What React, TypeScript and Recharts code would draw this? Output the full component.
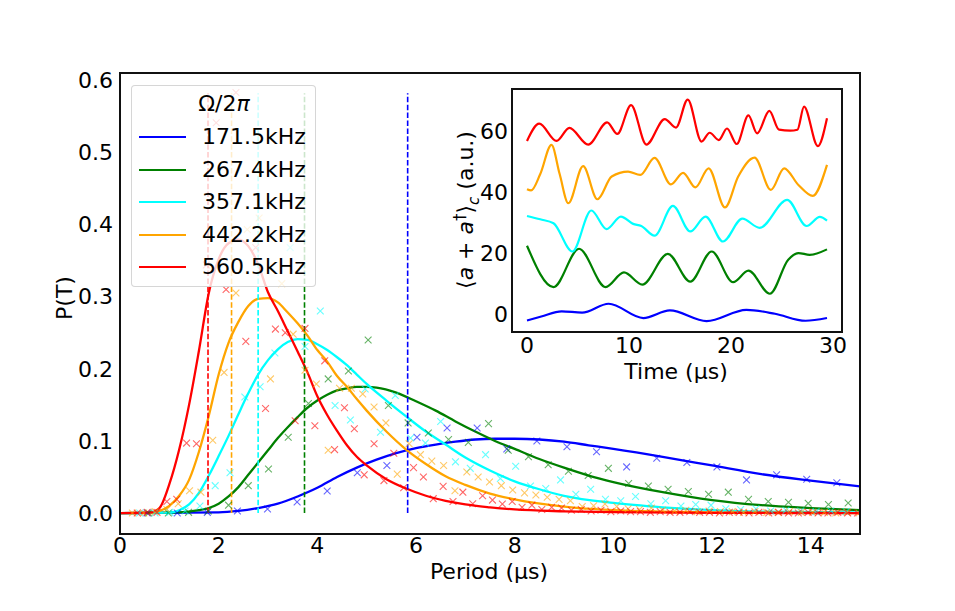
import { ComposedChart, LineChart, Line, Scatter, XAxis, YAxis } from 'recharts';

// main panel: period distributions P(T)
const periodTicks = [0, 2, 4, 6, 8, 10, 12, 14];
const probTicks = [0, 0.1, 0.2, 0.3, 0.4, 0.5, 0.6];
// inset: time traces
const timeTicks = [0, 10, 20, 30];
const signalTicks = [0, 20, 40, 60];

const names = ['171.5kHz', '267.4kHz', '357.1kHz', '442.2kHz', '560.5kHz'];
const colors = ['blue', 'green', 'cyan', 'orange', 'red'];
const periods = [5.831, 3.74, 2.8, 2.261, 1.784];
const markTop = 0.582;

const blueFit = [
  [0, 0], [2.0, 0.001], [2.4, 0.003], [2.8, 0.007], [3.2, 0.013], [3.6, 0.023], [4.0, 0.035],
  [4.4, 0.05], [4.8, 0.063], [5.2, 0.074], [5.6, 0.083], [6.0, 0.09], [6.4, 0.095], [6.8, 0.099],
  [7.2, 0.102], [7.6, 0.103], [8.0, 0.103], [8.5, 0.102], [9.0, 0.099], [9.5, 0.094], [10, 0.089],
  [11, 0.078], [12, 0.066], [13, 0.054], [14, 0.045], [15, 0.037]
];
const greenFit = [
  [0, 0], [1.2, 0.001], [1.6, 0.004], [1.8, 0.007], [2.0, 0.013], [2.2, 0.023], [2.4, 0.036],
  [2.6, 0.053], [2.8, 0.07], [3.0, 0.087], [3.2, 0.104], [3.4, 0.119], [3.6, 0.133], [3.8, 0.146],
  [4.0, 0.156], [4.2, 0.164], [4.4, 0.17], [4.6, 0.173], [4.8, 0.175], [5.0, 0.175], [5.2, 0.174],
  [5.6, 0.167], [6.0, 0.155], [6.4, 0.142], [6.8, 0.127], [7.2, 0.113], [7.6, 0.1], [8.0, 0.089],
  [8.5, 0.075], [9.0, 0.063], [9.5, 0.052], [10, 0.043], [11, 0.029], [12, 0.018], [13, 0.011],
  [14, 0.007], [15, 0.004]
];
const cyanFit = [
  [0, 0], [1.0, 0.0005], [1.2, 0.004], [1.4, 0.012], [1.6, 0.028], [1.8, 0.052], [2.0, 0.079],
  [2.2, 0.107], [2.4, 0.137], [2.6, 0.166], [2.8, 0.192], [3.0, 0.212], [3.2, 0.227], [3.4, 0.237],
  [3.6, 0.241], [3.8, 0.24], [4.0, 0.234], [4.2, 0.226], [4.4, 0.216], [4.6, 0.205], [4.8, 0.192],
  [5.0, 0.179], [5.4, 0.156], [5.8, 0.134], [6.2, 0.113], [6.6, 0.095], [7.0, 0.077], [7.5, 0.059],
  [8.0, 0.044], [8.5, 0.033], [9.0, 0.024], [10, 0.014], [11, 0.008], [12, 0.004], [13, 0.002],
  [15, 0.001]
];
const orangeFit = [
  [0, 0], [0.6, 0.0005], [0.8, 0.003], [1.0, 0.01], [1.2, 0.024], [1.4, 0.046], [1.6, 0.085],
  [1.8, 0.135], [2.0, 0.192], [2.2, 0.236], [2.4, 0.265], [2.6, 0.287], [2.8, 0.297], [3.0, 0.298],
  [3.2, 0.292], [3.4, 0.278], [3.6, 0.263], [3.8, 0.246], [4.0, 0.226], [4.2, 0.21], [4.4, 0.19],
  [4.6, 0.175], [4.8, 0.158], [5.0, 0.142], [5.4, 0.113], [5.8, 0.088], [6.2, 0.068], [6.6, 0.051],
  [7.0, 0.039], [7.5, 0.027], [8.0, 0.019], [9.0, 0.009], [10, 0.004], [11, 0.002], [12, 0.001],
  [15, 0]
];
const redFit = [
  [0, 0], [0.6, 0.0005], [0.8, 0.007], [1.0, 0.04], [1.2, 0.088], [1.4, 0.15], [1.6, 0.225],
  [1.8, 0.305], [2.0, 0.352], [2.2, 0.374], [2.4, 0.379], [2.6, 0.37], [2.8, 0.345], [3.0, 0.306],
  [3.2, 0.28], [3.4, 0.252], [3.6, 0.224], [3.8, 0.195], [4.0, 0.162], [4.2, 0.136], [4.4, 0.114],
  [4.6, 0.094], [4.8, 0.078], [5.0, 0.066], [5.4, 0.047], [5.8, 0.034], [6.2, 0.024], [6.6, 0.017],
  [7.0, 0.012], [7.5, 0.008], [8.0, 0.005], [9.0, 0.0025], [10, 0.0012], [12, 0.0003], [15, 0]
];

const bluePts = [
  [0.55, 0], [1.16, 0], [1.77, 0.001], [2.38, 0.003], [2.99, 0.0056], [3.59, 0.0153], [4.2, 0.0305],
  [4.81, 0.056], [5.41, 0.066], [6.02, 0.105], [6.63, 0.118], [7.24, 0.118], [7.84, 0.089],
  [8.45, 0.1], [9.06, 0.092], [9.66, 0.085], [10.27, 0.064], [10.88, 0.076], [11.49, 0.07],
  [12.1, 0.064], [12.7, 0.046], [13.31, 0.053], [13.92, 0.047], [14.53, 0.042]
];
const greenPts = [
  [0.58, 0], [0.98, 0], [1.39, 0.001], [1.79, 0.003], [2.2, 0.011], [2.6, 0.038], [3.01, 0.061],
  [3.41, 0.105], [3.82, 0.152], [4.22, 0.186], [4.63, 0.197], [5.03, 0.24], [5.44, 0.149],
  [5.84, 0.125], [6.25, 0.111], [6.66, 0.102], [7.06, 0.098], [7.47, 0.124], [7.87, 0.087],
  [8.28, 0.078], [8.68, 0.067], [9.09, 0.058], [9.49, 0.052], [9.9, 0.062], [10.31, 0.041],
  [10.71, 0.0375], [11.11, 0.033], [11.52, 0.03], [11.93, 0.026], [12.33, 0.029], [12.74, 0.019],
  [13.14, 0.016], [13.55, 0.015], [13.95, 0.0135], [14.36, 0.012], [14.76, 0.014]
];
const cyanPts = [
  [0.4, 0], [0.71, 0], [1.01, 0.001], [1.32, 0.003], [1.62, 0.0097], [1.93, 0.038], [2.23, 0.056],
  [2.53, 0.161], [2.84, 0.175], [3.14, 0.222], [3.45, 0.368], [3.75, 0.231], [4.06, 0.28],
  [4.36, 0.149], [4.67, 0.129], [4.97, 0.172], [5.28, 0.112], [5.58, 0.163], [5.89, 0.104],
  [6.19, 0.097], [6.5, 0.127], [6.8, 0.071], [7.1, 0.062], [7.41, 0.081], [7.71, 0.048],
  [8.02, 0.065], [8.32, 0.0375], [8.63, 0.034], [8.93, 0.046], [9.24, 0.026], [9.54, 0.033],
  [9.84, 0.019], [10.15, 0.017], [10.45, 0.023], [10.76, 0.013], [11.06, 0.017], [11.37, 0.0097],
  [11.67, 0.012], [11.98, 0.011], [12.28, 0.006], [12.58, 0.005], [12.89, 0.006], [13.19, 0.003],
  [13.5, 0.004], [13.8, 0.003], [14.11, 0.002], [14.41, 0.003], [14.72, 0.002]
];
const orangePts = [
  [0.25, 0], [0.48, 0], [0.71, 0.002], [0.95, 0.005], [1.18, 0.013], [1.41, 0.031], [1.64, 0.029],
  [1.88, 0.101], [2.11, 0.195], [2.35, 0.305], [2.58, 0.393], [2.82, 0.409], [3.05, 0.186],
  [3.28, 0.318], [3.51, 0.248], [3.75, 0.198], [3.98, 0.179], [4.22, 0.087], [4.45, 0.173],
  [4.69, 0.173], [4.92, 0.165], [5.15, 0.147], [5.39, 0.125], [5.62, 0.054], [5.86, 0.096],
  [6.09, 0.081], [6.32, 0.072], [6.56, 0.066], [6.79, 0.031], [7.03, 0.057], [7.26, 0.05],
  [7.49, 0.043], [7.73, 0.038], [7.96, 0.032], [8.2, 0.028], [8.43, 0.025], [8.66, 0.022],
  [8.9, 0.019], [9.13, 0.017], [9.37, 0.009], [9.6, 0.01], [9.83, 0.0125], [10.07, 0.009],
  [10.3, 0.006], [10.53, 0.005], [10.77, 0.007], [11.0, 0.004], [11.24, 0.003], [11.47, 0.004],
  [11.7, 0.002], [11.94, 0.003], [12.17, 0.002], [12.41, 0.002], [12.64, 0.001], [12.87, 0.002],
  [13.11, 0.001], [13.34, 0.001], [13.57, 0.002], [13.81, 0.001], [14.04, 0.001], [14.28, 0.001],
  [14.51, 0], [14.74, 0.001], [14.98, 0]
];
const redPts = [
  [0.35, 0], [0.55, 0.001], [0.75, 0.001], [0.95, 0.016], [1.15, 0.019], [1.35, 0.097], [1.55, 0.096],
  [1.75, 0.344], [1.95, 0.541], [2.15, 0.31], [2.35, 0.583], [2.55, 0.238], [2.75, 0.368],
  [2.95, 0.145], [3.15, 0.255], [3.35, 0.25], [3.55, 0.128], [3.75, 0.256], [3.95, 0.121],
  [4.15, 0.211], [4.35, 0.088], [4.55, 0.146], [4.75, 0.117], [4.95, 0.053], [5.15, 0.096],
  [5.35, 0.045], [5.55, 0.083], [5.75, 0.035], [5.95, 0.063], [6.15, 0.05], [6.35, 0.02],
  [6.55, 0.037], [6.75, 0.016], [6.95, 0.029], [7.15, 0.013], [7.35, 0.024], [7.55, 0.018],
  [7.75, 0.0125], [7.95, 0.016], [8.15, 0.008], [8.35, 0.011], [8.55, 0.005], [8.75, 0.008],
  [8.95, 0.007], [9.15, 0.004], [9.35, 0.005], [9.55, 0.003], [9.75, 0.004], [9.95, 0.002],
  [10.15, 0.003], [10.35, 0.002], [10.55, 0.002], [10.75, 0.001], [10.95, 0.002], [11.15, 0.001],
  [11.35, 0.001], [11.55, 0.002], [11.75, 0.001], [11.95, 0.001], [12.15, 0], [12.35, 0.001],
  [12.55, 0.001], [12.75, 0], [12.95, 0.001], [13.15, 0], [13.35, 0.001], [13.55, 0], [13.75, 0],
  [13.95, 0.001], [14.15, 0], [14.35, 0], [14.55, 0.001], [14.75, 0], [14.95, 0]
];

const blueTrace = [
  [0, -2.2], [1.4, -0.9], [3.4, 0.8], [5.4, 0.4], [8.0, 3.3], [11.4, -1.4], [14.0, 1.1],
  [17.6, -2.4], [21.5, 1.3], [24.3, 0], [27.3, -2.3], [29.4, -1.4]
];
const greenTrace = [
  [0, 22.4], [2.6, 8.8], [5.1, 21.4], [7.7, 8.8], [9.5, 13.6], [11.3, 9.6], [13.8, 19.7],
  [16.0, 10.6], [18.1, 20.5], [20.2, 10.4], [21.7, 14.2], [23.8, 6.6], [25.6, 17.8], [26.6, 20.0],
  [27.7, 19.4], [29.4, 21.2]
];
const cyanTrace = [
  [0, 32.2], [1.3, 31.1], [2.6, 29.8], [4.45, 20.5], [6.3, 34.0], [7.8, 27.9], [9.2, 32.0],
  [10.4, 29.6], [11.2, 28.9], [12.5, 25.7], [14.3, 35.5], [16.0, 27.1], [17.5, 32.0], [19.2, 23.8],
  [21.1, 31.3], [22.8, 28.3], [25.5, 37.5], [27.4, 28.9], [28.7, 31.9], [29.4, 30.7]
];
const orangeTrace = [
  [0, 41.0], [0.4, 40.6], [1.3, 46.0], [2.4, 55.6], [3.2, 46.0], [4.05, 36.4], [5.5, 48.6],
  [6.9, 37.7], [8.3, 45.2], [9.9, 46.8], [11.1, 45.7], [12.5, 51.3], [14.1, 42.6], [15.3, 46.4],
  [16.5, 41.6], [17.8, 47.9], [19.4, 35.0], [20.7, 45.2], [22.3, 51.4], [23.9, 40.8], [25.2, 47.9],
  [26.6, 42.4], [28.0, 38.8], [29.4, 49.0]
];
const redTrace = [
  [0, 56.9], [1.2, 62.6], [2.9, 56.9], [4.15, 61.2], [6.0, 55.7], [7.85, 63.0], [8.85, 59.2],
  [10.2, 68.7], [11.7, 55.7], [13.5, 64.1], [14.6, 61.3], [15.75, 70.5], [17.1, 56.7], [17.9, 59.6],
  [18.8, 57.2], [19.6, 61.0], [20.55, 55.9], [21.7, 65.3], [22.55, 59.4], [23.75, 66.8], [24.7, 60.6],
  [25.8, 60.3], [26.5, 60.6], [27.15, 68.2], [28.5, 55.2], [29.4, 64.4]
];

const fits = [blueFit, greenFit, cyanFit, orangeFit, redFit];
const points = [bluePts, greenPts, cyanPts, orangePts, redPts];
const traces = [blueTrace, greenTrace, cyanTrace, orangeTrace, redTrace];

const toXY = (pts: number[][]) => pts.map(([x, y]) => ({ x, y }));

const font = 'DejaVu Sans, Liberation Sans, sans-serif';
const fs = 22;
const tickStyle = { fontSize: fs, fill: '#000', fontFamily: font };

const cross = (color: string) => (props: any) => {
  const { cx, cy } = props;
  if (cx == null || cy == null) return <g />;
  const s = 3.4;
  return (
    <path
      d={`M${cx - s},${cy - s}L${cx + s},${cy + s}M${cx - s},${cy + s}L${cx + s},${cy - s}`}
      stroke={color}
      strokeOpacity={0.6}
      strokeWidth={1.1}
      fill="none"
    />
  );
};

function MainChart() {
  return (
    <ComposedChart width={955} height={611} margin={{ top: 73, right: 95, bottom: 47, left: 70 }}>
      <XAxis
        type="number"
        dataKey="x"
        domain={[0, 15]}
        ticks={periodTicks}
        interval={0}
        allowDataOverflow
        axisLine={false}
        tickLine={false}
        tickSize={0}
        tickMargin={3}
        height={30}
        tick={tickStyle}
      />
      <YAxis
        type="number"
        dataKey="y"
        domain={[-0.029, 0.61]}
        ticks={probTicks}
        interval={0}
        allowDataOverflow
        tickFormatter={(v: number) => v.toFixed(1)}
        axisLine={false}
        tickLine={false}
        tickSize={0}
        tickMargin={7}
        width={50}
        tick={tickStyle}
      />
      {points.map((p, i) => (
        <Scatter key={'s' + i} data={toXY(p)} shape={cross(colors[i])} isAnimationActive={false} />
      ))}
      {fits.map((f, i) => (
        <Line
          key={'f' + i}
          data={toXY(f)}
          dataKey="y"
          type="monotone"
          stroke={colors[i]}
          strokeWidth={2.3}
          dot={false}
          activeDot={false}
          isAnimationActive={false}
        />
      ))}
      {periods.map((t, i) => (
        <Line
          key={'m' + i}
          data={[{ x: t, y: 0 }, { x: t, y: markTop }]}
          dataKey="y"
          type="linear"
          stroke={colors[i]}
          strokeWidth={1.6}
          strokeDasharray="5.5 2.4"
          dot={false}
          activeDot={false}
          isAnimationActive={false}
        />
      ))}
    </ComposedChart>
  );
}

function InsetChart() {
  return (
    <LineChart width={410} height={300} margin={{ top: 9, right: 8, bottom: 18, left: 32 }}>
      <XAxis
        type="number"
        dataKey="x"
        domain={[-1.47, 30.87]}
        ticks={timeTicks}
        interval={0}
        allowDataOverflow
        axisLine={false}
        tickLine={false}
        tickSize={0}
        tickMargin={5}
        height={30}
        tick={tickStyle}
      />
      <YAxis
        type="number"
        dataKey="y"
        domain={[-6, 74]}
        ticks={signalTicks}
        interval={0}
        allowDataOverflow
        axisLine={false}
        tickLine={false}
        tickSize={0}
        tickMargin={4}
        width={40}
        tick={tickStyle}
      />
      {traces.map((tr, i) => (
        <Line
          key={'t' + i}
          data={toXY(tr)}
          dataKey="y"
          type="monotone"
          stroke={colors[i]}
          strokeWidth={2.2}
          dot={false}
          activeDot={false}
          isAnimationActive={false}
        />
      ))}
    </LineChart>
  );
}

const abs = (left: number, top: number, extra = {}) => ({ position: 'absolute' as const, left, top, ...extra });

const centered = (left: number, top: number, rotate = false) => ({
  position: 'absolute' as const,
  left,
  top,
  transform: `translate(-50%, -50%)${rotate ? ' rotate(-90deg)' : ''}`,
  whiteSpace: 'nowrap' as const,
  fontSize: fs,
  lineHeight: '24px',
  color: '#000'
});

export default function App() {
  return (
    <div style={{ position: 'absolute', left: 0, top: 0, width: 955, height: 611, background: '#fff', fontFamily: font, overflow: 'hidden' }}>
      <div style={abs(0, 0)}>
        <MainChart />
      </div>
      <div style={abs(119, 72, { width: 742, height: 463, border: '2px solid #111', boxSizing: 'border-box' })} />

      <div style={abs(131, 85, { width: 185, height: 202, background: 'rgba(255,255,255,0.8)', border: '1px solid rgba(204,204,204,0.8)', borderRadius: 4, boxSizing: 'border-box' })}>
        <div style={centered(92, 18)}>
          Ω/2<i>π</i>
        </div>
        {names.map((n, i) => (
          <div key={n}>
            <div style={abs(7, 50 + i * 32.5, { width: 47, height: 2.4, background: colors[i] })} />
            <div style={abs(70, 38 + i * 32.5, { fontSize: fs, lineHeight: '26px', whiteSpace: 'nowrap', color: '#000' })}>{n}</div>
          </div>
        ))}
      </div>

      <div style={abs(511, 88, { width: 332, height: 245, background: '#fff', border: '2px solid #111', boxSizing: 'border-box' })} />
      <div style={abs(440, 80)}>
        <InsetChart />
      </div>

      <div style={centered(65, 298, true)}>P(T)</div>
      <div style={centered(489, 572)}>Period (μs)</div>
      <div style={centered(676, 372)}>Time (μs)</div>
      <div style={centered(467, 210, true)}>
        ⟨<i>a</i> + <i>a</i><sup style={{ fontSize: 15 }}>†</sup>⟩<sub style={{ fontSize: 15 }}><i>c</i></sub> (a.u.)
      </div>
    </div>
  );
}
